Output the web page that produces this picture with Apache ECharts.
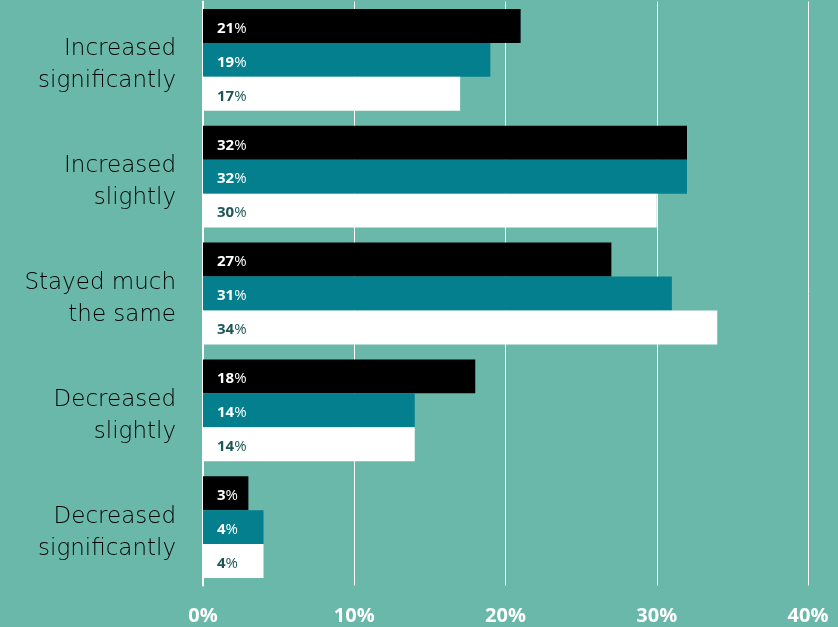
<!DOCTYPE html>
<html>
<head>
<meta charset="utf-8">
<script src="https://cdn.jsdelivr.net/npm/echarts@6/dist/echarts.min.js"></script>
<style>
  html, body { margin: 0; padding: 0; background: #69b8aa; }
  #chart { width: 838px; height: 627px; }
</style>
</head>
<body>
<div id="chart"></div>
<script>
// Change in responses, three survey groups per category
const categories = [
  'Increased\nsignificantly',
  'Increased\nslightly',
  'Stayed much\nthe same',
  'Decreased\nslightly',
  'Decreased\nsignificantly'
];
const seriesBlack = [21, 32, 27, 18, 3];
const seriesTeal  = [19, 32, 31, 14, 4];
const seriesWhite = [17, 30, 34, 14, 4];
const xTicks = [0, 10, 20, 30, 40];

const FONT = '"Open Sans", sans-serif';
const CAT_FONT = '"DejaVu Sans", sans-serif';

function pctLabel(color) {
  return {
    show: true,
    position: 'insideLeft',
    distance: 14,
    formatter: p => '{b|' + p.value + '}{r|%}',
    rich: {
      b: { color: color, fontFamily: FONT, fontWeight: 'bold', fontSize: 15, padding: [5, 0, 0, 0] },
      r: { color: color, fontFamily: FONT, fontWeight: 'normal', fontSize: 15, padding: [5, 0, 0, 0] }
    }
  };
}

function barSeries(name, data, fill, labelColor) {
  return {
    name: name,
    type: 'bar',
    data: data,
    barGap: '0%',
    barCategoryGap: '12.8%',
    itemStyle: { color: fill },
    label: pctLabel(labelColor),
    emphasis: { disabled: true }
  };
}

const catText = { color: '#000000', fontFamily: CAT_FONT, fontWeight: 200, fontSize: 23, align: 'right' };

const chart = echarts.init(document.getElementById('chart'));
chart.setOption({
  backgroundColor: '#69b8aa',
  animation: false,
  grid: { left: 203, right: 30, top: 1.5, bottom: 41.5, containLabel: false },
  xAxis: {
    type: 'value',
    min: xTicks[0],
    max: xTicks[xTicks.length - 1],
    interval: 10,
    axisLine: { show: false },
    axisTick: { show: false },
    splitLine: { show: true, lineStyle: { color: '#ffffff', width: 1 } },
    axisLabel: {
      color: '#ffffff',
      fontFamily: FONT,
      fontWeight: 'bold',
      fontSize: 20,
      margin: 21,
      formatter: v => v + '%'
    }
  },
  yAxis: {
    type: 'category',
    inverse: true,
    data: categories,
    axisLine: { show: true, lineStyle: { color: '#ffffff', width: 2 } },
    axisTick: { show: false },
    axisLabel: {
      margin: 27,
      align: 'right',
      formatter: v => {
        const lines = v.split('\n');
        return '{first|' + lines[0] + '}\n{second|' + lines[1] + '}';
      },
      rich: {
        first: Object.assign({}, catText, { lineHeight: 43 }),
        second: Object.assign({}, catText, { lineHeight: 21 })
      }
    }
  },
  series: [
    barSeries('Group A', seriesBlack, '#000000', '#ffffff'),
    barSeries('Group B', seriesTeal, '#037f8e', '#ffffff'),
    barSeries('Group C', seriesWhite, '#ffffff', '#1c5656')
  ]
});
</script>
</body>
</html>
